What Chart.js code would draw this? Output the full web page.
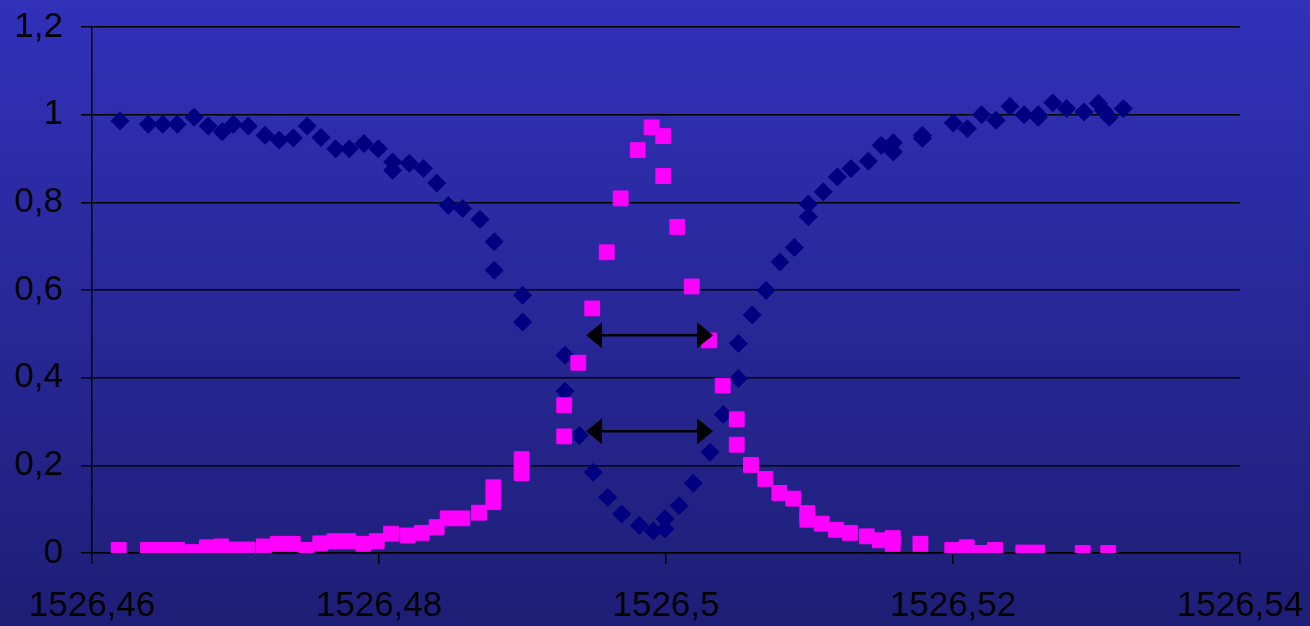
<!DOCTYPE html>
<html lang="es">

<head>
  <meta charset="UTF-8" />
  <title>Transmisión / reflexión</title>
  <script src="https://cdn.jsdelivr.net/npm/chart.js@4.4.0/dist/chart.umd.min.js"></script>
  <style>
    body {
      margin: 0;
      background: #26269a;
    }

    .chart-container {
      position: relative;
      width: 1310px;
      height: 626px;
    }
  </style>
</head>

<body>
  <div class="chart-container">
    <canvas id="grafico"></canvas>
  </div>
  <script>
    // serie azul (rombos)
    const azulX = [1526.46195, 1526.46392, 1526.46493, 1526.46594, 1526.46711, 1526.46810, 1526.46908, 1526.46985,
      1526.47089, 1526.47206, 1526.47305, 1526.47403, 1526.47500, 1526.47596, 1526.47698, 1526.47793, 1526.47895,
      1526.47995, 1526.48095, 1526.48095, 1526.48211, 1526.48309, 1526.48402, 1526.48483, 1526.48583, 1526.48704,
      1526.48803, 1526.48803, 1526.49001, 1526.49001, 1526.49296, 1526.49296, 1526.49396, 1526.49493, 1526.49594,
      1526.49691, 1526.49814, 1526.49912, 1526.49993, 1526.49993, 1526.50091, 1526.50190, 1526.50307, 1526.50399,
      1526.50504, 1526.50504, 1526.50601, 1526.50697, 1526.50794, 1526.50894, 1526.50992, 1526.50992, 1526.51096,
      1526.51194, 1526.51289, 1526.51410, 1526.51500, 1526.51584, 1526.51584, 1526.51786, 1526.51786, 1526.52002,
      1526.52100, 1526.52200, 1526.52300, 1526.52397, 1526.52495, 1526.52594, 1526.52594, 1526.52695, 1526.52792,
      1526.52913, 1526.53013, 1526.53048, 1526.53089, 1526.53187];
    const azulY = [0.986, 0.978, 0.978, 0.978, 0.994, 0.974, 0.961, 0.978, 0.974, 0.953, 0.942, 0.947, 0.974, 0.948,
      0.922, 0.922, 0.934, 0.922, 0.892, 0.873, 0.889, 0.877, 0.844, 0.793, 0.786, 0.761, 0.710, 0.645, 0.588, 0.527,
      0.451, 0.369, 0.268, 0.184, 0.127, 0.089, 0.063, 0.050, 0.078, 0.055, 0.108, 0.159, 0.230, 0.316, 0.398, 0.478,
      0.543, 0.599, 0.664, 0.697, 0.767, 0.796, 0.824, 0.858, 0.877, 0.894, 0.930, 0.936, 0.915, 0.953, 0.946, 0.981,
      0.968, 1.000, 0.987, 1.019, 1.000, 1.000, 0.994, 1.027, 1.014, 1.006, 1.026, 1.010, 0.994, 1.014];

    // serie magenta (cuadrados)
    const magentaX = [1526.46186, 1526.46390, 1526.46491, 1526.46592, 1526.46702, 1526.46801, 1526.46901, 1526.46976,
      1526.47080, 1526.47197, 1526.47296, 1526.47399, 1526.47493, 1526.47591, 1526.47691, 1526.47786, 1526.47891,
      1526.47984, 1526.48084, 1526.48200, 1526.48298, 1526.48402, 1526.48479, 1526.48581, 1526.48697, 1526.48797,
      1526.48797, 1526.48994, 1526.48994, 1526.49291, 1526.49291, 1526.49389, 1526.49486, 1526.49587, 1526.49684,
      1526.49803, 1526.49900, 1526.49981, 1526.49981, 1526.50079, 1526.50179, 1526.50300, 1526.50395, 1526.50493,
      1526.50493, 1526.50592, 1526.50692, 1526.50790, 1526.50887, 1526.50985, 1526.50985, 1526.51085, 1526.51185,
      1526.51282, 1526.51399, 1526.51491, 1526.51580, 1526.51580, 1526.51773, 1526.51995, 1526.52095, 1526.52193,
      1526.52293, 1526.52490, 1526.52587, 1526.52904, 1526.53082];
    const magentaY = [0.007, 0.007, 0.007, 0.007, 0.002, 0.013, 0.015, 0.008, 0.008, 0.015, 0.021, 0.021, 0.007, 0.022,
      0.027, 0.027, 0.021, 0.027, 0.044, 0.040, 0.046, 0.059, 0.079, 0.079, 0.092, 0.150, 0.116, 0.214, 0.182, 0.337,
      0.266, 0.434, 0.558, 0.686, 0.809, 0.919, 0.971, 0.951, 0.860, 0.744, 0.608, 0.485, 0.382, 0.305, 0.247, 0.201,
      0.169, 0.137, 0.124, 0.091, 0.076, 0.067, 0.053, 0.046, 0.038, 0.029, 0.034, 0.021, 0.021, 0.007, 0.013, 0.000,
      0.007, 0.001, 0.001, 0.000, 0.000];

    // flechas dobles (anchura a media altura)
    const flechaY = [0.497, 0.278];
    const flechaDesde = [1526.49443, 1526.49443];
    const flechaHasta = [1526.50328, 1526.50328];

    const etiquetasX = ['1526,46', '1526,48', '1526,5', '1526,52', '1526,54'];
    const etiquetasY = ['0', '0,2', '0,4', '0,6', '0,8', '1', '1,2'];

    const fondo = {
      id: 'fondo',
      beforeDraw(chart) {
        const ctx = chart.ctx;
        const g = ctx.createLinearGradient(0, 0, 0, chart.height);
        g.addColorStop(0, '#3131ba');
        g.addColorStop(1, '#1e1e76');
        ctx.save();
        ctx.fillStyle = g;
        ctx.fillRect(0, 0, chart.width, chart.height);
        ctx.restore();
      }
    };

    const flechas = {
      id: 'flechas',
      afterDatasetsDraw(chart) {
        const ctx = chart.ctx;
        const sx = chart.scales.x, sy = chart.scales.y;
        ctx.save();
        ctx.fillStyle = '#000';
        ctx.strokeStyle = '#000';
        ctx.lineWidth = 2.5;
        flechaY.forEach((v, i) => {
          const y = sy.getPixelForValue(v);
          const x1 = sx.getPixelForValue(flechaDesde[i]);
          const x2 = sx.getPixelForValue(flechaHasta[i]);
          ctx.beginPath();
          ctx.moveTo(x1 + 10, y);
          ctx.lineTo(x2 - 10, y);
          ctx.stroke();
          ctx.beginPath();
          ctx.moveTo(x1, y);
          ctx.lineTo(x1 + 16, y - 13);
          ctx.lineTo(x1 + 16, y + 13);
          ctx.closePath();
          ctx.fill();
          ctx.beginPath();
          ctx.moveTo(x2, y);
          ctx.lineTo(x2 - 16, y - 13);
          ctx.lineTo(x2 - 16, y + 13);
          ctx.closePath();
          ctx.fill();
        });
        ctx.restore();
      }
    };

    const fuente = { family: "'Liberation Sans', Arial, sans-serif", size: 35 };

    new Chart(document.getElementById('grafico'), {
      type: 'scatter',
      data: {
        datasets: [{
          label: 'Reflexión',
          data: magentaX.map((x, i) => ({ x: x, y: magentaY[i] })),
          pointStyle: 'rect',
          pointRadius: 10.5,
          pointHoverRadius: 10.5,
          backgroundColor: '#ff00ff',
          borderColor: '#ff00ff',
          borderWidth: 1
        }, {
          label: 'Transmisión',
          data: azulX.map((x, i) => ({ x: x, y: azulY[i] })),
          pointStyle: 'rectRot',
          pointRadius: 9,
          pointHoverRadius: 9,
          backgroundColor: '#000080',
          borderColor: '#000080',
          borderWidth: 1
        }]
      },
      options: {
        responsive: true,
        maintainAspectRatio: false,
        animation: false,
        layout: {
          padding: { top: 27, right: 70, left: 0, bottom: 0 }
        },
        plugins: {
          legend: { display: false },
          tooltip: { enabled: false }
        },
        scales: {
          x: {
            type: 'linear',
            min: 1526.46,
            max: 1526.54,
            afterFit(s) {
              s.height = 73;
              s.paddingLeft = 0;
              s.paddingRight = 0;
            },
            afterBuildTicks(s) {
              s.ticks = etiquetasX.map((_, i) => ({ value: 1526.46 + i * 0.02 }));
            },
            ticks: {
              color: '#000',
              font: fuente,
              padding: 21,
              maxRotation: 0,
              callback: (v, i) => etiquetasX[i]
            },
            grid: {
              drawOnChartArea: false,
              drawTicks: true,
              tickLength: 11,
              color: '#000',
              lineWidth: 1.5
            },
            border: { display: true, color: '#000', width: 1.5 }
          },
          y: {
            min: 0,
            max: 1.2,
            afterFit(s) {
              s.width = 92;
              s.paddingTop = 0;
              s.paddingBottom = 0;
            },
            afterBuildTicks(s) {
              s.ticks = etiquetasY.map((_, i) => ({ value: i * 0.2 }));
            },
            ticks: {
              color: '#000',
              font: fuente,
              padding: 18,
              callback: (v, i) => etiquetasY[i]
            },
            grid: {
              color: '#000',
              lineWidth: 1.5,
              tickLength: 11
            },
            border: { display: true, color: '#000', width: 1.5 }
          }
        }
      },
      plugins: [fondo, flechas]
    });
  </script>
</body>

</html>
